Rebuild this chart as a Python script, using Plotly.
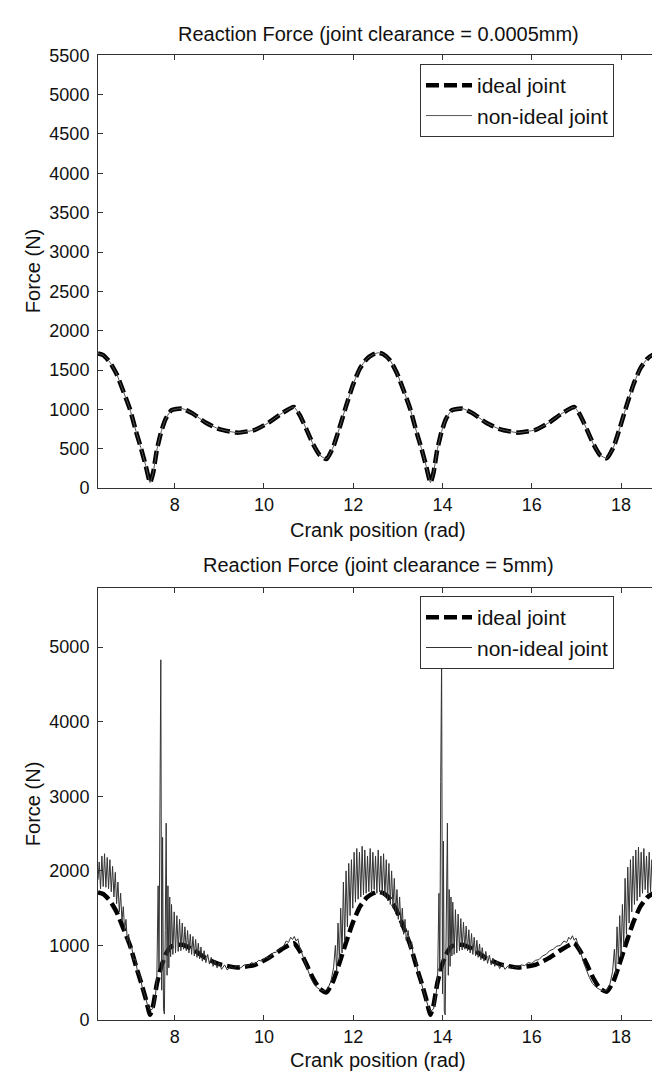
import plotly.graph_objects as go

# ---------------- data ----------------
# ideal joint reaction force (two crank revolutions, 2*pi .. 6*pi)
crank_ideal = [6.283, 6.40, 6.55, 6.70, 6.85, 7.00, 7.15, 7.25, 7.35, 7.45, 7.52, 7.60, 7.70, 7.80,
               7.93, 8.17, 8.40, 8.70, 9.00, 9.40, 9.80, 10.10, 10.40, 10.67, 10.80, 10.95, 11.10,
               11.25, 11.40, 11.55, 11.70, 11.85, 12.00, 12.15, 12.30, 12.45, 12.566,
               12.68, 12.83, 12.98, 13.13, 13.28, 13.43, 13.53, 13.63, 13.73, 13.80, 13.88, 13.98,
               14.08, 14.21, 14.45, 14.68, 14.98, 15.28, 15.68, 16.08, 16.38, 16.68, 16.95, 17.08,
               17.23, 17.38, 17.53, 17.68, 17.83, 17.98, 18.13, 18.28, 18.43, 18.58, 18.73, 18.85]
force_ideal = [1710, 1690, 1600, 1450, 1230, 1000, 690, 500, 290, 70, 200, 480, 720, 880,
               990, 1010, 950, 830, 750, 705, 740, 830, 950, 1030, 930, 750, 560,
               420, 370, 520, 780, 1060, 1320, 1520, 1640, 1700, 1720,
               1700, 1620, 1460, 1240, 1000, 690, 500, 290, 70, 200, 480, 720,
               880, 990, 1010, 950, 830, 750, 705, 740, 830, 950, 1030, 930,
               750, 560, 420, 380, 520, 780, 1060, 1320, 1520, 1640, 1700, 1720]

# non-ideal joint, clearance 0.0005 mm (indistinguishable from ideal)
crank_small_clearance = crank_ideal
force_small_clearance = force_ideal

# non-ideal joint, clearance 5 mm
crank_5mm = [6.283, 6.31, 6.34, 6.37, 6.40, 6.43, 6.46, 6.49, 6.52, 6.55, 6.58, 6.61, 6.64, 6.67,
             6.70, 6.73, 6.76, 6.79, 6.82, 6.85, 6.88, 6.91, 6.94, 6.97, 7.00, 7.04, 7.08, 7.12,
             7.17, 7.22, 7.28, 7.34, 7.40, 7.46, 7.52, 7.57, 7.60, 7.63, 7.65, 7.67, 7.69, 7.71,
             7.73, 7.75, 7.77, 7.79, 7.81, 7.83, 7.85, 7.87, 7.89, 7.91, 7.93, 7.96, 7.99, 8.02,
             8.05, 8.08, 8.11, 8.14, 8.17, 8.20, 8.23, 8.26, 8.29, 8.32, 8.35, 8.38, 8.41, 8.44,
             8.47, 8.50, 8.53, 8.56, 8.59, 8.62, 8.66, 8.70, 8.74, 8.78, 8.82, 8.86, 8.90, 8.95,
             9.00, 9.05, 9.12, 9.18, 9.25, 9.32, 9.40, 9.48, 9.56, 9.64, 9.72, 9.80, 9.88, 9.96,
             10.04, 10.12, 10.20, 10.28, 10.36, 10.44, 10.50, 10.55, 10.60, 10.64, 10.68, 10.72,
             10.76, 10.80, 10.86, 10.92, 10.98, 11.05, 11.12, 11.20, 11.28, 11.36, 11.43, 11.50,
             11.56, 11.60, 11.63, 11.66, 11.69, 11.72, 11.75, 11.78, 11.81, 11.84, 11.87, 11.90,
             11.93, 11.96, 11.99, 12.02, 12.05, 12.08, 12.11, 12.14, 12.17, 12.20, 12.23, 12.26,
             12.29, 12.32, 12.35, 12.38, 12.41, 12.44, 12.47, 12.50, 12.53, 12.56, 12.59, 12.62,
             12.65, 12.68, 12.71, 12.74, 12.77, 12.80, 12.83, 12.86, 12.89, 12.92, 12.95, 12.98,
             13.01, 13.04, 13.07, 13.10, 13.13, 13.16, 13.19, 13.23, 13.27, 13.31, 13.35, 13.40,
             13.45, 13.50, 13.56, 13.62, 13.68, 13.74, 13.80, 13.85, 13.89, 13.92, 13.94, 13.96,
             13.98, 14.00, 14.02, 14.04, 14.06, 14.08, 14.11, 14.13, 14.15, 14.17, 14.19, 14.21,
             14.23, 14.26, 14.29, 14.32, 14.35, 14.38, 14.41, 14.44, 14.47, 14.50, 14.53, 14.56,
             14.59, 14.62, 14.65, 14.68, 14.71, 14.74, 14.77, 14.80, 14.83, 14.86, 14.89, 14.93,
             14.97, 15.01, 15.05, 15.09, 15.13, 15.17, 15.22, 15.28, 15.34, 15.40, 15.47, 15.54,
             15.61, 15.68, 15.76, 15.84, 15.92, 16.00, 16.08, 16.16, 16.24, 16.32, 16.40, 16.48,
             16.56, 16.64, 16.72, 16.78, 16.83, 16.87, 16.91, 16.95, 16.99, 17.04, 17.10, 17.16,
             17.22, 17.29, 17.36, 17.44, 17.52, 17.60, 17.68, 17.75, 17.81, 17.85, 17.88, 17.91,
             17.94, 17.97, 18.00, 18.03, 18.06, 18.09, 18.12, 18.15, 18.18, 18.21, 18.24, 18.27,
             18.30, 18.33, 18.36, 18.39, 18.42, 18.45, 18.48, 18.51, 18.54, 18.57, 18.60, 18.63,
             18.66, 18.69, 18.72, 18.75, 18.78, 18.81, 18.85]
force_5mm = [1880, 2120, 1760, 2200, 1790, 2230, 1780, 2180, 1760, 2150, 1720, 2060, 1650, 1980,
             1560, 1850, 1450, 1700, 1330, 1520, 1200, 1350, 1060, 1150, 950, 980, 800, 820,
             640, 600, 420, 320, 180, 130, 160, 330, 520, 1800, 700, 3300, 4830, 400,
             2450, 150, 80, 1200, 2640, 600, 1800, 700, 1650, 850, 1550, 880, 1450, 900,
             1400, 920, 1350, 930, 1300, 950, 1250, 930, 1200, 900, 1150, 880, 1120, 860,
             1080, 840, 1030, 820, 980, 790, 930, 770, 880, 750, 840, 720, 800, 700,
             770, 680, 740, 670, 720, 690, 730, 700, 740, 720, 770, 750, 800, 790,
             840, 830, 900, 910, 960, 990, 1060, 1040, 1110, 1080, 1120, 1060,
             1090, 980, 880, 760, 660, 560, 480, 430, 400, 390, 420, 520,
             700, 1000, 650, 1300, 800, 1500, 900, 1850, 1050, 2000, 1250, 2100,
             1400, 2150, 1500, 2250, 1580, 2300, 1620, 2250, 1650, 2330, 1680, 2280,
             1700, 2200, 1720, 2300, 1700, 2250, 1750, 2200, 1700, 2280, 1720, 2200,
             1680, 2230, 1650, 2150, 1600, 2100, 1550, 2000, 1500, 1900, 1420, 1750,
             1350, 1650, 1250, 1500, 1150, 1350, 1060, 1200, 960, 1050, 820, 800,
             640, 560, 420, 300, 180, 120, 150, 320, 520, 1700, 650, 3200,
             4850, 350, 2400, 120, 70, 1100, 2640, 600, 1750, 720, 1650, 860,
             1580, 880, 1480, 900, 1420, 930, 1360, 940, 1310, 950, 1260, 930,
             1210, 900, 1160, 880, 1110, 860, 1070, 840, 1020, 810, 970, 790,
             920, 760, 870, 740, 830, 720, 790, 690, 750, 680, 730, 690,
             720, 700, 740, 730, 770, 760, 800, 810, 860, 880, 930, 950,
             990, 1000, 1060, 1040, 1110, 1080, 1130, 1070, 1100, 1000, 900, 770,
             670, 570, 490, 440, 410, 390, 400, 480, 650, 950, 620, 1250,
             760, 1400, 850, 1550, 980, 1900, 1150, 2050, 1300, 2150, 1450, 2200,
             1550, 2280, 1600, 2320, 1650, 2250, 1700, 2300, 1750, 2200, 1700, 2250,
             1720, 2150, 1680, 2100, 1650, 2000, 1750]

x_tick_vals = [8, 10, 12, 14, 16, 18]
y_tick_vals_top = [0, 500, 1000, 1500, 2000, 2500, 3000, 3500, 4000, 4500, 5000, 5500]
y_tick_vals_bottom = [0, 1000, 2000, 3000, 4000, 5000]

titles = ["Reaction Force (joint clearance = 0.0005mm)", "Reaction Force (joint clearance = 5mm)"]
x_label = "Crank position (rad)"
y_label = "Force (N)"

# ---------------- figure ----------------
W, H = 660, 1077
FONT = "Liberation Sans, Arial, Helvetica, sans-serif"

def py(px):
    return 1 - px / H

x_dom = [90 / W, 651 / W]
top_dom = [py(479), py(38)]
bot_dom = [py(1021), py(581)]

dash_style = "13px,5px"

fig = go.Figure()
fig.add_trace(go.Scatter(x=crank_ideal, y=force_ideal, mode="lines", name="ideal joint",
                         line=dict(color="black", width=4.5, dash=dash_style, shape="spline", smoothing=0.5),
                         xaxis="x", yaxis="y", legend="legend"))
fig.add_trace(go.Scatter(x=crank_small_clearance, y=force_small_clearance, mode="lines", name="non-ideal joint",
                         line=dict(color="#555", width=1, shape="spline", smoothing=0.5),
                         xaxis="x", yaxis="y", legend="legend"))
fig.add_trace(go.Scatter(x=crank_ideal, y=force_ideal, mode="lines", name="ideal joint",
                         line=dict(color="black", width=4.5, dash=dash_style, shape="spline", smoothing=0.5),
                         xaxis="x2", yaxis="y2", legend="legend2"))
fig.add_trace(go.Scatter(x=crank_5mm, y=force_5mm, mode="lines", name="non-ideal joint",
                         line=dict(color="#333", width=1),
                         xaxis="x2", yaxis="y2", legend="legend2"))

axis_common = dict(showline=True, linecolor="#333", linewidth=1, mirror="ticks", ticks="inside",
                   ticklen=5, tickcolor="#333", tickwidth=1, showgrid=False, zeroline=False,
                   tickfont=dict(family=FONT, size=18, color="#111"))

legend_common = dict(xanchor="left", yanchor="top", bgcolor="white", bordercolor="#333", borderwidth=1,
                     itemwidth=46, font=dict(family=FONT, size=21, color="#111"))

fig.update_layout(
    width=W, height=H,
    margin=dict(l=0, r=0, t=0, b=0),
    paper_bgcolor="white", plot_bgcolor="white",
    font=dict(family=FONT, color="#111"),
    xaxis=dict(domain=x_dom, anchor="y", range=[6.2832, 18.8496], tickmode="array",
               tickvals=x_tick_vals, **axis_common),
    yaxis=dict(domain=top_dom, anchor="x", range=[0, 5500], tickmode="array",
               tickvals=y_tick_vals_top, ticklabelstandoff=4, **axis_common),
    xaxis2=dict(domain=x_dom, anchor="y2", range=[6.2832, 18.8496], tickmode="array",
                tickvals=x_tick_vals, **axis_common),
    yaxis2=dict(domain=bot_dom, anchor="x2", range=[0, 5790], tickmode="array",
                tickvals=y_tick_vals_bottom, ticklabelstandoff=4, **axis_common),
    legend=dict(x=412 / W, y=py(47), **legend_common),
    legend2=dict(x=412 / W, y=py(589), **legend_common),
    showlegend=True,
)

xc = (x_dom[0] + x_dom[1]) / 2
ann = [
    dict(text=titles[0], x=xc, y=py(16), xref="paper", yref="paper", showarrow=False,
         font=dict(family=FONT, size=20, color="#111"), xanchor="center", yanchor="middle"),
    dict(text=titles[1], x=xc, y=py(557), xref="paper", yref="paper", showarrow=False,
         font=dict(family=FONT, size=20, color="#111"), xanchor="center", yanchor="middle"),
    dict(text=x_label, x=xc, y=py(522), xref="paper", yref="paper", showarrow=False,
         font=dict(family=FONT, size=20, color="#111"), xanchor="center", yanchor="middle"),
    dict(text=x_label, x=xc, y=py(1062), xref="paper", yref="paper", showarrow=False,
         font=dict(family=FONT, size=20, color="#111"), xanchor="center", yanchor="middle"),
    dict(text=y_label, x=25 / W, y=py(258), xref="paper", yref="paper", showarrow=False, textangle=-90,
         font=dict(family=FONT, size=20, color="#111"), xanchor="center", yanchor="middle"),
    dict(text=y_label, x=25 / W, y=py(801), xref="paper", yref="paper", showarrow=False, textangle=-90,
         font=dict(family=FONT, size=20, color="#111"), xanchor="center", yanchor="middle"),
]
fig.update_layout(annotations=ann)

fig.write_html("out.html")
